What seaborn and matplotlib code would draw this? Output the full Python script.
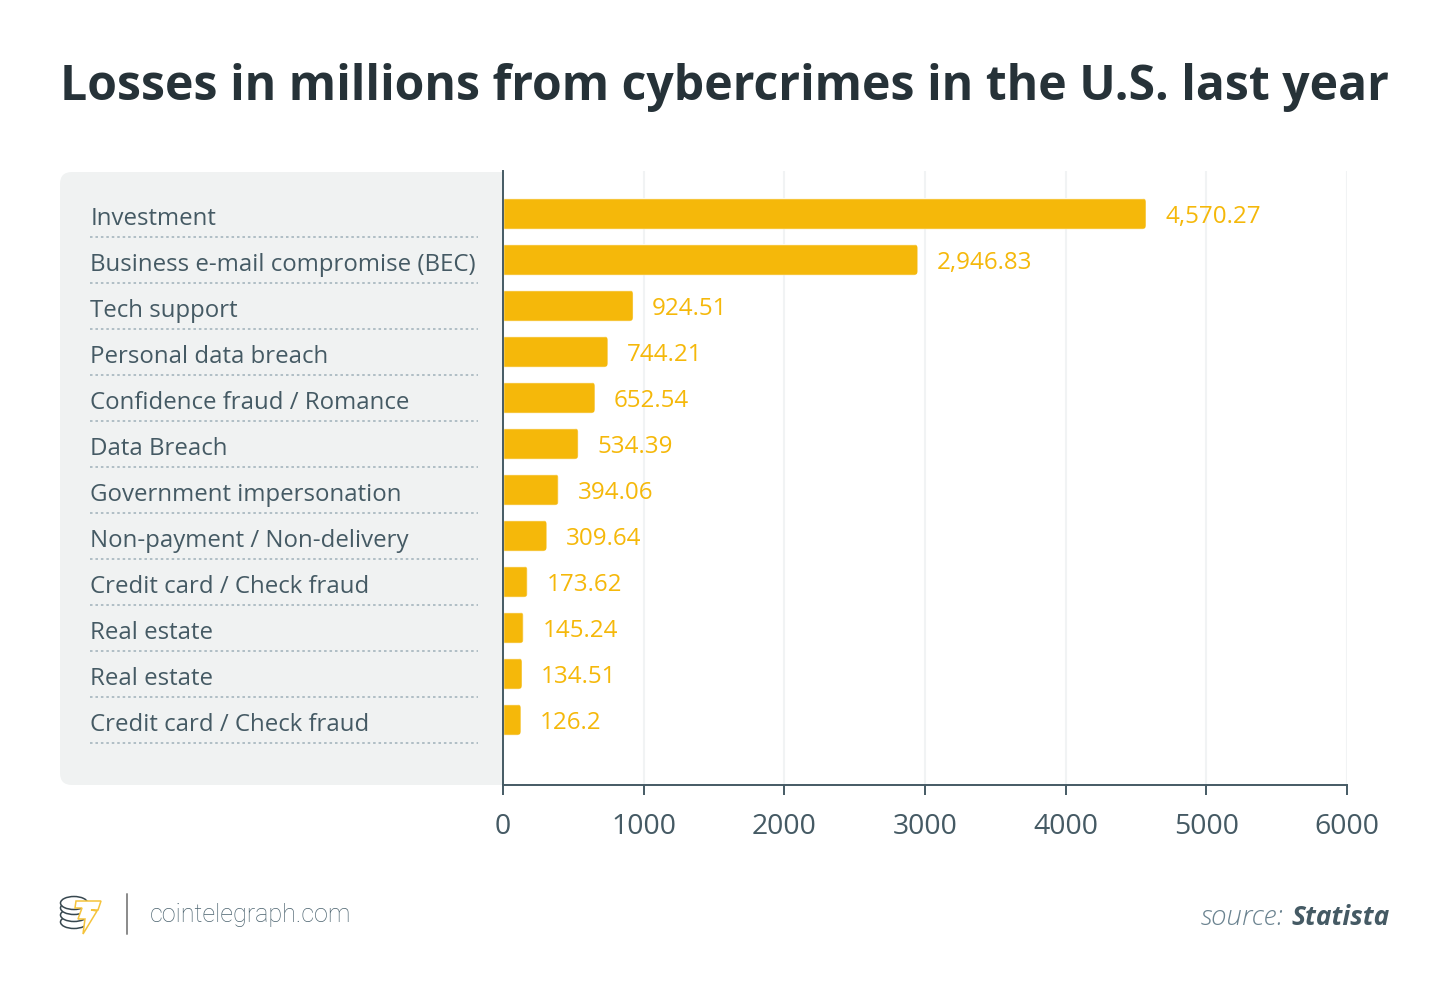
import numpy as np
import matplotlib
matplotlib.use("Agg")
import matplotlib.pyplot as plt
from matplotlib.lines import Line2D
from matplotlib.patches import FancyBboxPatch, Ellipse, Polygon
from matplotlib.transforms import Affine2D, IdentityTransform
import seaborn as sns

categories = ["Investment", "Business e-mail compromise (BEC)", "Tech support",
              "Personal data breach", "Confidence fraud / Romance", "Data Breach",
              "Government impersonation", "Non-payment / Non-delivery",
              "Credit card / Check fraud", "Real estate", "Real estate",
              "Credit card / Check fraud"]
losses = [4570.27, 2946.83, 924.51, 744.21, 652.54, 534.39,
          394.06, 309.64, 173.62, 145.24, 134.51, 126.2]
x_ticks = [0, 1000, 2000, 3000, 4000, 5000, 6000]

DARK = "#263238"
SLATE = "#455a64"
YELLOW = "#f5b80a"
W, H = 1450, 995

sns.set_theme(style="white")
plt.rcParams["font.family"] = ["Open Sans", "DejaVu Sans"]

fig = plt.figure(figsize=(W / 100, H / 100), dpi=100, facecolor="white")
# pixels measured from the top left, like the reference
px = Affine2D().scale(1, -1).translate(0, H)

ax = fig.add_axes([503 / W, 1 - 786 / H, 844 / W, 614 / H], facecolor="white")
ax.set_zorder(1)

positions = np.arange(len(categories))
sns.barplot(x=losses, y=positions, orient="y", color=YELLOW, saturation=1,
            width=31 / 46, ax=ax)
ax.set_xlim(0, 6000)
ax.set_ylim(12.42, -0.928)

ax.set_xticks(x_ticks)
ax.set_xlabel("")
ax.set_ylabel("")
ax.grid(axis="x", color="#f1f3f4", linewidth=1.5)
ax.grid(axis="y", visible=False)
ax.set_axisbelow(True)
ax.tick_params(axis="x", bottom=True, length=7.5, width=1.4, color=SLATE, labelcolor=SLATE,
               labelsize=20.4, pad=11.7)
ax.tick_params(axis="y", length=0, labelcolor=SLATE, labelsize=17.3, pad=297)
ax.set_yticks(positions)
ax.set_yticklabels(categories, ha="left", va="center")
for lab in ax.get_yticklabels():
    lab.set_transform(lab.get_transform() + Affine2D().translate(0, -4.2))
for s in ["top", "right"]:
    ax.spines[s].set_visible(False)
for s in ["left", "bottom"]:
    ax.spines[s].set_color(SLATE)
    ax.spines[s].set_linewidth(1.4)

# dotted rows in the grey panel
for p in positions:
    ax.plot([-0.489, -0.0298], [p + 0.5, p + 0.5], transform=ax.get_yaxis_transform(),
            color="#b0bec5", linewidth=1.4, linestyle=(0, (1.3, 1.5)), clip_on=False)

# value labels
value_labels = [f"{v:,.10g}" for v in losses]
texts = ax.bar_label(ax.containers[0], labels=value_labels, padding=13.8, color=YELLOW, fontsize=17.35)
for t in texts:
    t.xyann = (13.8, -2)

# round the right end of each bar
fig.canvas.draw()
for bar in ax.containers[0]:
    bb = bar.get_window_extent()
    clip = FancyBboxPatch((bb.x0 - 10, bb.y0), bb.width + 10, bb.height,
                          boxstyle="round,pad=0,rounding_size=4", transform=IdentityTransform())
    bar.set_clip_path(clip)

# grey panel behind the category names
fig.add_artist(FancyBboxPatch((60, 173), 480, 613, boxstyle="round,pad=0,rounding_size=12",
                              transform=px, facecolor="#f0f2f2", edgecolor="none", zorder=-1))

fig.text(60.5 / W, 1 - 87.5 / H, "Losses in millions from cybercrimes in the U.S. last year",
         color=DARK, fontsize=34.65, fontweight="bold", va="center", ha="left")

# footer
fig.add_artist(Line2D([127, 127], [895, 935], transform=px, color="#8a8a8a", linewidth=1.4))
fig.text(150 / W, 1 - 915 / H, "cointelegraph.com", color="#4a626e", fontsize=18.05,
         family="Roboto", fontweight="light", va="center", ha="left")
src = fig.text(1390 / W, 1 - 918 / H, "Statista", color=SLATE, fontsize=19, fontweight="bold",
               fontstyle="italic", va="center", ha="right")
fig.canvas.draw()
sx0 = src.get_window_extent().x0
fig.text((sx0 - 8) / W, 1 - 918 / H, "source:", color="#6b8390", fontsize=20, fontstyle="italic",
         fontweight="light", va="center", ha="right")

# logo: coin stack with a yellow bolt
for cy in [923, 916, 909, 904]:
    fig.add_artist(Ellipse((74, cy), 27, 13, transform=px, facecolor="white", edgecolor="#37474f",
                           linewidth=1.1))
fig.add_artist(Polygon([(76, 902), (101, 902), (98, 911), (91, 911), (97, 912), (83, 935),
                        (85, 920), (78, 920), (82, 909), (75, 909)],
                       closed=True, transform=px, facecolor="white", edgecolor="#f5c33b", linewidth=1.1))

fig.savefig("out.png", dpi=100, facecolor="white")
